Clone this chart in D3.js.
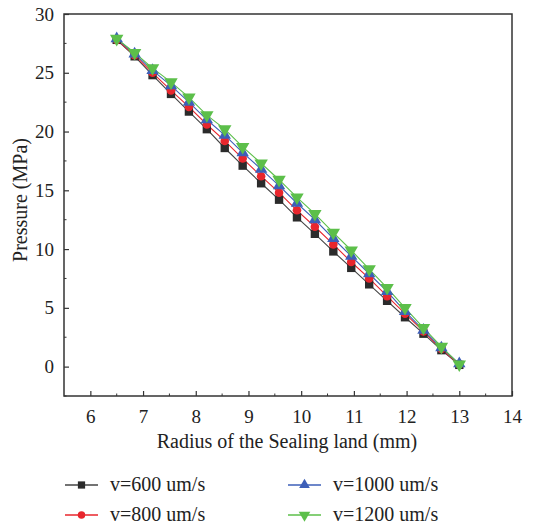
<!DOCTYPE html>
<html>
<head>
<meta charset="utf-8">
<script src="https://cdn.jsdelivr.net/npm/d3@7"></script>
<style>
	body { margin: 0; background: #fff; }
	svg text { font-family: "Liberation Serif", "DejaVu Serif", serif; fill: #222; }
</style>
</head>
<body>
<div id="stage"></div>
<script>
// radius points (mm)
var radius = [6.5, 6.84, 7.18, 7.53, 7.87, 8.21, 8.55, 8.89, 9.24, 9.58,
	9.92, 10.26, 10.61, 10.95, 11.29, 11.63, 11.97, 12.32, 12.66, 13.0];

// pressure (MPa) for each speed
var p600 = [27.8, 26.4, 24.8, 23.2, 21.7, 20.2, 18.6, 17.1, 15.6, 14.2,
	12.7, 11.3, 9.8, 8.4, 7.0, 5.6, 4.2, 2.8, 1.4, 0.15];
var p800 = [27.8, 26.5, 25.0, 23.5, 22.1, 20.6, 19.2, 17.7, 16.2, 14.8,
	13.3, 11.9, 10.4, 8.9, 7.5, 6.0, 4.5, 3.0, 1.5, 0.2];
var p1000 = [27.9, 26.6, 25.2, 23.9, 22.5, 21.0, 19.7, 18.2, 16.8, 15.4,
	13.9, 12.5, 10.9, 9.4, 7.9, 6.4, 4.7, 3.1, 1.6, 0.25];
var p1200 = [27.9, 26.7, 25.4, 24.2, 22.9, 21.4, 20.2, 18.7, 17.3, 15.9,
	14.4, 13.0, 11.4, 9.9, 8.3, 6.7, 5.0, 3.3, 1.7, 0.2];

var seriesNames = ['v=600 um/s', 'v=800 um/s', 'v=1000 um/s', 'v=1200 um/s'];
var xTicks = [6, 7, 8, 9, 10, 11, 12, 13, 14];
var yTicks = [0, 5, 10, 15, 20, 25, 30];

var series = [
	{name: seriesNames[0], values: p600, color: '#2b2b2b', line: '#444', symbol: d3.symbolSquare, size: 70, rot: 0},
	{name: seriesNames[1], values: p800, color: '#e8262d', line: '#e8262d', symbol: d3.symbolCircle, size: 58, rot: 0},
	{name: seriesNames[2], values: p1000, color: '#3d5fb8', line: '#3d5fb8', symbol: d3.symbolTriangle, size: 66, rot: 0},
	{name: seriesNames[3], values: p1200, color: '#5cbf4a', line: '#5cbf4a', symbol: d3.symbolTriangle, size: 78, rot: 180}
];

var width = 555, height = 527;
var margin = {top: 14, right: 43, bottom: 131, left: 64};
var w = width - margin.left - margin.right,
	h = height - margin.top - margin.bottom;

var svg = d3.select('#stage').append('svg')
	.attr('width', width)
	.attr('height', height);

var x = d3.scaleLinear().domain([5.5, 14]).range([0, w]);
var y = d3.scaleLinear().domain([-2.5, 30]).range([h, 0]);

var g = svg.append('g')
	.attr('transform', 'translate(' + margin.left + ',' + margin.top + ')');

// minor ticks
var xMinor = d3.range(6.5, 14, 1);
var yMinor = d3.range(-2.5, 30, 5);

g.selectAll('.xminor')
	.data(xMinor)
	.enter()
	.append('line')
	.attr('x1', function(d) { return x(d); })
	.attr('x2', function(d) { return x(d); })
	.attr('y1', h)
	.attr('y2', h - 2.5)
	.attr('stroke', '#333')
	.attr('stroke-width', 1);

g.selectAll('.yminor')
	.data(yMinor)
	.enter()
	.append('line')
	.attr('x1', 0)
	.attr('x2', 2.5)
	.attr('y1', function(d) { return y(d); })
	.attr('y2', function(d) { return y(d); })
	.attr('stroke', '#333')
	.attr('stroke-width', 1);

// axes (ticks inward)
var xAxis = g.append('g')
	.attr('transform', 'translate(0,' + h + ')')
	.call(d3.axisBottom(x).tickValues(xTicks).tickSize(-5).tickPadding(14).tickFormat(d3.format('d')));

var yAxis = g.append('g')
	.call(d3.axisLeft(y).tickValues(yTicks).tickSize(-5).tickPadding(10).tickFormat(d3.format('d')));

[xAxis, yAxis].forEach(function(a) {
	a.select('.domain').remove();
	a.selectAll('.tick line').attr('stroke', '#333').attr('stroke-width', 1.2);
	a.selectAll('.tick text')
		.style('font-family', '"Liberation Serif", "DejaVu Serif", serif')
		.style('font-size', '19px')
		.attr('fill', '#222');
});

// frame
g.append('rect')
	.attr('x', 0)
	.attr('y', 0)
	.attr('width', w)
	.attr('height', h)
	.attr('fill', 'none')
	.attr('stroke', '#333')
	.attr('stroke-width', 1.5);

// lines and markers
var line = d3.line()
	.x(function(d, i) { return x(radius[i]); })
	.y(function(d) { return y(d); });

series.forEach(function(s) {
	g.append('path')
		.datum(s.values)
		.attr('d', line)
		.attr('fill', 'none')
		.attr('stroke', s.line)
		.attr('stroke-width', 1.1);
});

series.forEach(function(s) {
	var sym = d3.symbol().type(s.symbol).size(s.size);
	g.selectAll(null)
		.data(s.values)
		.enter()
		.append('path')
		.attr('d', sym)
		.attr('transform', function(d, i) {
			return 'translate(' + x(radius[i]) + ',' + y(d) + ') rotate(' + s.rot + ')';
		})
		.attr('fill', s.color);
});

// axis titles
svg.append('text')
	.attr('x', margin.left + w / 2 - 1)
	.attr('y', 448)
	.attr('text-anchor', 'middle')
	.style('font-size', '20px')
	.text('Radius of the Sealing land (mm)');

svg.append('text')
	.attr('transform', 'translate(27,200) rotate(-90)')
	.attr('text-anchor', 'middle')
	.style('font-size', '20px')
	.text('Pressure (MPa)');

// legend
var legendPos = [
	{x: 65, y: 485}, {x: 65, y: 515}, {x: 288, y: 485}, {x: 288, y: 515}
];

series.forEach(function(s, i) {
	var p = legendPos[i];
	var lg = svg.append('g').attr('transform', 'translate(' + p.x + ',' + p.y + ')');
	lg.append('line')
		.attr('x1', 0)
		.attr('x2', 33)
		.attr('y1', 0)
		.attr('y2', 0)
		.attr('stroke', s.line)
		.attr('stroke-width', 1.5);
	lg.append('path')
		.attr('d', d3.symbol().type(s.symbol).size(s.size * 0.75))
		.attr('transform', 'translate(16.5,0) rotate(' + s.rot + ')')
		.attr('fill', s.color);
	lg.append('text')
		.attr('x', 45)
		.attr('y', 6)
		.style('font-size', '20px')
		.text(s.name);
});
</script>
</body>
</html>
